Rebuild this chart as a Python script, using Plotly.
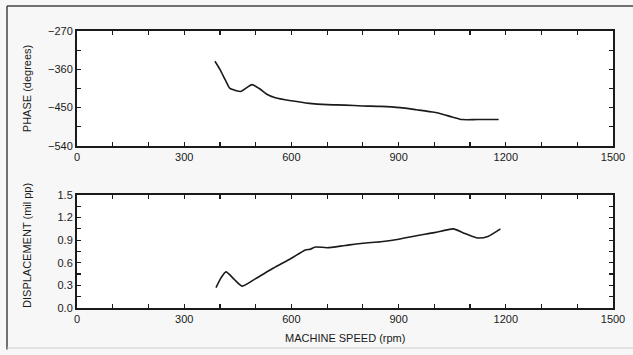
import plotly.graph_objects as go

# ---- data ----
phase_speed = [386, 400, 415, 428, 445, 458, 475, 490, 510, 530, 555, 600, 650, 700,
               750, 800, 850, 905, 950, 1000, 1025, 1050, 1078, 1120, 1180]
phase_deg = [-341, -360, -385, -405, -410, -412, -403, -396, -405, -418, -427, -434, -440, -443,
             -444, -446, -447, -450, -455, -461, -466, -472, -478, -478, -478]

disp_speed = [389, 403, 417, 440, 462, 500, 550, 600, 639, 653, 667, 700, 750, 800,
              850, 896, 950, 1000, 1053, 1080, 1120, 1150, 1185]
disp_mil = [0.27, 0.40, 0.48, 0.38, 0.29, 0.39, 0.53, 0.66, 0.77, 0.78, 0.81, 0.80, 0.83, 0.86,
            0.88, 0.91, 0.96, 1.00, 1.05, 1.00, 0.93, 0.95, 1.05]

x_ticks = [0, 300, 600, 900, 1200, 1500]
phase_ticks = [-270, -360, -450, -540]
disp_ticks = [0.0, 0.3, 0.6, 0.9, 1.2, 1.5]

FONT = "Liberation Sans"
INK = "#1a1a1a"

fig = go.Figure()
fig.add_trace(go.Scatter(x=phase_speed, y=phase_deg, mode="lines", xaxis="x2", yaxis="y2",
                         line=dict(color=INK, width=1.6, shape="spline", smoothing=0.6),
                         showlegend=False, hoverinfo="skip"))
fig.add_trace(go.Scatter(x=disp_speed, y=disp_mil, mode="lines", xaxis="x", yaxis="y",
                         line=dict(color=INK, width=1.6, shape="spline", smoothing=0.6),
                         showlegend=False, hoverinfo="skip"))

axis_common = dict(showgrid=False, zeroline=False, showline=True, linecolor=INK, linewidth=2,
                   mirror="allticks", ticks="inside", ticklen=4, tickcolor=INK, tickwidth=1.2,
                   automargin=False,
                   tickfont=dict(family=FONT, size=11, color=INK))

frame = dict(color="#444444", width=1.5)

fig.update_layout(
    width=633, height=355,
    margin=dict(l=77, r=20, t=31, b=47, autoexpand=False),
    paper_bgcolor="#f7f7f7", plot_bgcolor="white",
    xaxis=dict(axis_common, domain=[0, 1], range=[0, 1500], tickvals=x_ticks,
               minor=dict(dtick=100, ticks="inside", ticklen=4, tickcolor=INK),
               anchor="y"),
    yaxis=dict(axis_common, domain=[0, 0.408], range=[0, 1.5], tickvals=disp_ticks,
               ticktext=[f"{v:.1f}" for v in disp_ticks],
               minor=dict(dtick=0.15, ticks="inside", ticklen=4, tickcolor=INK),
               anchor="x"),
    xaxis2=dict(axis_common, domain=[0, 1], range=[0, 1500], tickvals=x_ticks,
                minor=dict(dtick=100, ticks="inside", ticklen=4, tickcolor=INK),
                anchor="y2"),
    yaxis2=dict(axis_common, domain=[0.585, 1], range=[-540, -270], tickvals=phase_ticks,
                minor=dict(dtick=45, ticks="inside", ticklen=4, tickcolor=INK),
                anchor="x2"),
    annotations=[
        dict(text="MACHINE SPEED (rpm)", xref="paper", yref="paper", x=0.5, y=0, yshift=-22,
             yanchor="top", showarrow=False, font=dict(family=FONT, size=11, color=INK)),
        dict(text="PHASE (degrees)", xref="paper", yref="paper", x=0, xshift=-50, y=0.79,
             xanchor="center", yanchor="middle",
             textangle=-90, showarrow=False, font=dict(family=FONT, size=11, color=INK)),
        dict(text="DISPLACEMENT (mil pp)", xref="paper", yref="paper", x=0, xshift=-50, y=0.224,
             xanchor="center", yanchor="middle",
             textangle=-90, showarrow=False, font=dict(family=FONT, size=11, color=INK)),
    ],
    shapes=[
        dict(type="line", xref="paper", yref="paper", x0=-0.1306, x1=1.04, y0=1.0903, y1=1.0903,
             line=frame, layer="below"),
        dict(type="line", xref="paper", yref="paper", x0=-0.1306, x1=-0.1306, y0=-0.15, y1=1.0903,
             line=frame, layer="below"),
        dict(type="line", xref="paper", yref="paper", x0=-0.1306, x1=1.04, y0=-0.1444, y1=-0.1444,
             line=dict(color="#cccccc", width=1), layer="below"),
    ],
)

fig.write_html("out.html", config={"displayModeBar": False, "staticPlot": True},
               post_script="document.body.style.margin='0';document.body.style.overflow='hidden';")
